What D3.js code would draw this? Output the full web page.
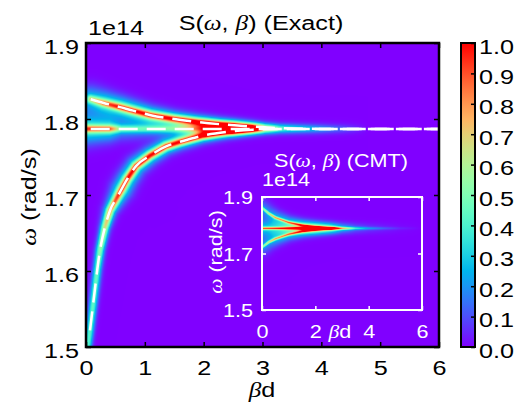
<!DOCTYPE html>
<html>
<head>
<meta charset="utf-8">
<script src="https://cdn.jsdelivr.net/npm/d3@7"></script>
<style>
  body { margin: 0; background: #fff; }
  svg { font-family: "Liberation Sans", Arial, sans-serif; }
</style>
</head>
<body>
<svg id="chart" width="525" height="406"></svg>
<script>
// ---- data (omega in units of 1e14 rad/s, beta in units of 1/d) ----
var betaTicks = [0, 1, 2, 3, 4, 5, 6];
var omegaTicks = [1.5, 1.6, 1.7, 1.8, 1.9];
var colorTicks = [0.0, 0.1, 0.2, 0.3, 0.4, 0.5, 0.6, 0.7, 0.8, 0.9, 1.0];
var insetBetaTicks = [0, 2, 4, 6];
var insetOmegaTicks = [1.5, 1.7, 1.9];

// exact map: branch centres
var upperBeta  = [0.08, 0.3, 0.56, 0.8, 1.1, 1.5, 1.9, 2.3, 2.84, 3.3, 4, 6];
var upperOmega = [1.826, 1.821, 1.816, 1.811, 1.805, 1.800, 1.796, 1.793, 1.790, 1.788, 1.787, 1.787];
var lowerBeta  = [0.03, 0.068, 0.15, 0.19, 0.24, 0.32, 0.41, 0.53, 0.70, 0.85, 1.09, 1.36, 1.6, 1.98, 2.4, 2.84, 3.3, 4, 6];
var lowerOmega = [1.50, 1.522, 1.575, 1.601, 1.628, 1.657, 1.68, 1.697, 1.721, 1.738, 1.752, 1.764, 1.77, 1.778, 1.783, 1.786, 1.787, 1.787, 1.787];
var flatBeta   = [0.02, 6];
var flatOmega  = [1.787, 1.787];

// peak height of each branch along beta d
var upperAmpBeta = [0, 0.3, 0.6, 2.0, 2.5, 2.8, 3.05, 3.3, 3.6, 4.2, 4.8];
var upperAmp     = [0.6, 0.9, 1, 1, 0.8, 0.55, 0.27, 0.15, 0.11, 0.05, 0];
var lowerAmpBeta = [0, 0.2, 0.4, 0.6, 2.0, 2.5, 2.8, 3.05, 3.3, 3.6, 4.2, 4.8];
var lowerAmp     = [0.4, 0.45, 0.8, 1, 1, 0.8, 0.55, 0.27, 0.15, 0.11, 0.05, 0];
var flatAmpBeta  = [0, 0.4, 0.6, 1.0, 1.5, 1.9, 2.5, 2.8, 3.05, 3.3, 3.6, 4.2, 4.8];
var flatAmp      = [0.95, 0.9, 0.5, 0.45, 0.45, 0.6, 0.8, 0.6, 0.27, 0.15, 0.11, 0.05, 0];

// width (px) of the soft glow round each branch along beta d
var upperWidthBeta = [0, 0.5, 1.5, 3, 6];
var upperWidth     = [9, 7.5, 5.5, 4, 4];
var lowerWidthBeta = [0, 0.3, 0.6, 1.5, 3, 6];
var lowerWidth     = [3, 4, 7, 5.5, 4, 4];
var flatWidthBeta  = [0, 0.5, 1.5, 3, 6];
var flatWidth      = [10, 8, 5.5, 4, 4];

// dashed analytic curves start here
var dashStart = 0.08;

// CMT inset
var insetBeta  = [0, 0.25, 0.5, 1.0, 1.5, 2.0, 2.5, 3, 4, 6];
var insetUpper = [1.862, 1.842, 1.827, 1.810, 1.800, 1.795, 1.792, 1.790, 1.789, 1.789];
var insetLower = [1.722, 1.740, 1.752, 1.768, 1.778, 1.783, 1.786, 1.788, 1.789, 1.789];
var insetFlat  = [1.789, 1.789, 1.789, 1.789, 1.789, 1.789, 1.789, 1.789, 1.789, 1.789];
var insetAmpBeta  = [0, 0.5, 1.5, 2.0, 2.6, 3.0, 3.5, 4, 4.6, 5.2, 6];
var insetSideAmp  = [0.5, 0.75, 0.75, 0.6, 0.4, 0.2, 0.08, 0.04, 0.02, 0.01, 0];
var insetFlatAmp  = [0.9, 0.9, 0.9, 0.9, 0.7, 0.4, 0.22, 0.13, 0.07, 0.02, 0];
var insetWidthBeta = [0, 1, 3, 6];
var insetWidth     = [5.5, 4.5, 3.5, 3.5];

var svg = d3.select("#chart");
var x = d3.scaleLinear().domain([0, 6]).range([86, 439]);
var y = d3.scaleLinear().domain([1.5, 1.9]).range([347, 43]);
var xi = d3.scaleLinear().domain([0, 6]).range([262, 422]);
var yi = d3.scaleLinear().domain([1.5, 1.9]).range([310, 197]);
var cbar = d3.scaleLinear().domain([0, 1]).range([347, 43]);

var STRETCH = "scale(1.2,1)";

// matplotlib "rainbow"
function rainbow(t) {
    t = Math.max(0, Math.min(1, t));
    var r = Math.min(1, Math.abs(2 * t - 0.5)),
        g = Math.sin(Math.PI * t),
        b = Math.cos(Math.PI * t / 2);
    return [Math.round(r * 255), Math.round(g * 255), Math.round(b * 255)];
}
function rainbowStr(t) { var c = rainbow(t); return "rgb(" + c.join(",") + ")"; }

function branch(bs, om, ab, a, wb, w) {
    return {
        beta: bs, omega: om,
        amp: d3.scaleLinear().domain(ab).range(a).clamp(true),
        width: d3.scaleLinear().domain(wb).range(w).clamp(true)
    };
}

// distance of every pixel to each branch line, turned into a glow
function heatImage(xs, ys, branches, core, coreWeight) {
    var x0 = xs.range()[0], y0 = ys.range()[1];
    var w = Math.round(xs.range()[1] - x0), h = Math.round(ys.range()[0] - y0);
    var canvas = document.createElement("canvas");
    canvas.width = w; canvas.height = h;
    var ctx = canvas.getContext("2d"), img = ctx.createImageData(w, h);
    var polys = branches.map(function (br) {
        return br.beta.map(function (b, k) { return [xs(b) - x0, ys(br.omega[k]) - y0, b]; });
    });
    for (var j = 0; j < h; j++) {
        for (var i = 0; i < w; i++) {
            var px = i + 0.5, py = j + 0.5, v = 0;
            for (var n = 0; n < polys.length; n++) {
                var p = polys[n], best = Infinity, bb = 0;
                for (var s = 0; s < p.length - 1; s++) {
                    var ax = p[s][0], ay = p[s][1], dx = p[s + 1][0] - ax, dy = p[s + 1][1] - ay;
                    var t = ((px - ax) * dx + (py - ay) * dy) / (dx * dx + dy * dy);
                    t = Math.max(0, Math.min(1, t));
                    var ex = ax + t * dx - px, ey = ay + t * dy - py, dd = ex * ex + ey * ey;
                    if (dd < best) { best = dd; bb = p[s][2] + t * (p[s + 1][2] - p[s][2]); }
                }
                var br = branches[n], sw = br.width(bb);
                v += br.amp(bb) * (coreWeight * Math.exp(-best / (2 * core * core)) +
                                   (1 - coreWeight) * Math.exp(-best / (2 * sw * sw)));
            }
            var rgb = rainbow(v), idx = (j * w + i) * 4;
            img.data[idx] = rgb[0]; img.data[idx + 1] = rgb[1]; img.data[idx + 2] = rgb[2]; img.data[idx + 3] = 255;
        }
    }
    ctx.putImageData(img, 0, 0);
    return {href: canvas.toDataURL(), x: x0, y: y0, w: w, h: h};
}

// text with italic greek letters
function richText(parent, str, size, fill) {
    var t = parent.append("text").attr("font-size", size).attr("fill", fill);
    str.split(/([\u03b1-\u03c9])/).forEach(function (part) {
        if (!part) return;
        var ts = t.append("tspan").text(part);
        if (/[\u03b1-\u03c9]/.test(part)) ts.attr("font-style", "italic").attr("font-family", "Liberation Serif, serif");
    });
    return t;
}

// ---- main heat map ----
var mainBranches = [
    branch(upperBeta, upperOmega, upperAmpBeta, upperAmp, upperWidthBeta, upperWidth),
    branch(lowerBeta, lowerOmega, lowerAmpBeta, lowerAmp, lowerWidthBeta, lowerWidth),
    branch(flatBeta, flatOmega, flatAmpBeta, flatAmp, flatWidthBeta, flatWidth)
];
var heat = heatImage(x, y, mainBranches, 2.6, 0.6);

svg.append("defs").append("clipPath").attr("id", "plotclip")
    .append("rect").attr("x", 86).attr("y", 43).attr("width", 353).attr("height", 304);

svg.append("image")
    .attr("x", heat.x).attr("y", heat.y)
    .attr("width", heat.w).attr("height", heat.h)
    .attr("preserveAspectRatio", "none")
    .attr("href", heat.href);

// dashed analytic dispersion
var line = d3.line()
    .x(function (d) { return x(d[0]); })
    .y(function (d) { return y(d[1]); })
    .curve(d3.curveMonotoneX);
function pairs(bs, om) {
    return bs.map(function (b, i) { return [b, om[i]]; });
}
var dashCurves = [
    pairs(upperBeta, upperOmega),
    pairs(lowerBeta.slice(1), lowerOmega.slice(1)),
    [[dashStart, flatOmega[0]], [6, flatOmega[1]]]
];
svg.append("g").attr("clip-path", "url(#plotclip)")
    .selectAll("path").data(dashCurves).enter().append("path")
    .attr("d", line)
    .attr("fill", "none")
    .attr("stroke", "#fff")
    .attr("stroke-width", 2.5)
    .attr("stroke-dasharray", "19,9");

// ---- inset (CMT) ----
var insetBranches = [
    branch(insetBeta, insetUpper, insetAmpBeta, insetSideAmp, insetWidthBeta, insetWidth),
    branch(insetBeta, insetLower, insetAmpBeta, insetSideAmp, insetWidthBeta, insetWidth),
    branch(insetBeta, insetFlat, insetAmpBeta, insetFlatAmp, insetWidthBeta, insetWidth)
];
var iheat = heatImage(xi, yi, insetBranches, 1.0, 0.68);
svg.append("image")
    .attr("x", iheat.x).attr("y", iheat.y)
    .attr("width", iheat.w).attr("height", iheat.h)
    .attr("preserveAspectRatio", "none")
    .attr("href", iheat.href);

function styleTicks(g, color, width) {
    g.select(".domain").remove();
    g.selectAll(".tick line").attr("stroke", color).attr("stroke-width", width);
}

// inset axes
var ig = svg.append("g");
ig.append("g").attr("transform", "translate(0,310)")
    .call(d3.axisBottom(xi).tickValues(insetBetaTicks).tickSize(-4).tickFormat(d3.format("d")))
    .call(styleTicks, "#fff", 1.5)
    .call(function (g) {
        g.selectAll("text").attr("y", null).attr("dy", null).attr("fill", "#fff").attr("font-size", 18)
            .attr("font-family", null).attr("transform", "translate(0,28) " + STRETCH);
    });
ig.append("g").attr("transform", "translate(0,197)")
    .call(d3.axisTop(xi).tickValues(insetBetaTicks).tickSize(-4).tickFormat(""))
    .call(styleTicks, "#fff", 1.5);
ig.append("g").attr("transform", "translate(262,0)")
    .call(d3.axisLeft(yi).tickValues(insetOmegaTicks).tickSize(-4).tickFormat(d3.format(".1f")))
    .call(styleTicks, "#fff", 1.5)
    .call(function (g) {
        g.selectAll("text").attr("x", null).attr("dy", null).attr("fill", "#fff").attr("font-size", 18)
            .attr("font-family", null).attr("transform", "translate(-9,6.5) " + STRETCH);
    });
ig.append("g").attr("transform", "translate(422,0)")
    .call(d3.axisRight(yi).tickValues(insetOmegaTicks).tickSize(-4).tickFormat(""))
    .call(styleTicks, "#fff", 1.5);
ig.append("rect").attr("x", 262).attr("y", 197).attr("width", 160).attr("height", 113)
    .attr("fill", "none").attr("stroke", "#fff").attr("stroke-width", 2);

richText(ig, "S(\u03c9, \u03b2) (CMT)", 18, "#fff")
    .attr("text-anchor", "middle").attr("transform", "translate(341,167) " + STRETCH);
ig.append("text").attr("font-size", 18).attr("fill", "#fff").text("1e14")
    .attr("transform", "translate(262,186) " + STRETCH);
richText(ig, "\u03c9 (rad/s)", 18, "#fff")
    .attr("text-anchor", "middle").attr("transform", "translate(222,252) rotate(-90) " + STRETCH);
richText(ig, "\u03b2d", 18, "#fff")
    .attr("text-anchor", "middle").attr("transform", "translate(340,338) " + STRETCH);

// ---- main axes ----
var ag = svg.append("g");
ag.append("g").attr("transform", "translate(0,347)")
    .call(d3.axisBottom(x).tickValues(betaTicks).tickSize(-5).tickFormat(d3.format("d")))
    .call(styleTicks, "#000", 1.5)
    .call(function (g) {
        g.selectAll("text").attr("y", null).attr("dy", null).attr("fill", "#000").attr("font-size", 21)
            .attr("font-family", null).attr("transform", "translate(0,28) " + STRETCH);
    });
ag.append("g").attr("transform", "translate(0,43)")
    .call(d3.axisTop(x).tickValues(betaTicks).tickSize(-5).tickFormat(""))
    .call(styleTicks, "#000", 1.5);
ag.append("g").attr("transform", "translate(86,0)")
    .call(d3.axisLeft(y).tickValues(omegaTicks).tickSize(-5).tickFormat(d3.format(".1f")))
    .call(styleTicks, "#000", 1.5)
    .call(function (g) {
        g.selectAll("text").attr("x", null).attr("dy", null).attr("fill", "#000").attr("font-size", 21)
            .attr("font-family", null).attr("transform", "translate(-7,10) " + STRETCH);
    });
ag.append("g").attr("transform", "translate(439,0)")
    .call(d3.axisRight(y).tickValues(omegaTicks).tickSize(-5).tickFormat(""))
    .call(styleTicks, "#000", 1.5);
ag.append("rect").attr("x", 86).attr("y", 43).attr("width", 353).attr("height", 304)
    .attr("fill", "none").attr("stroke", "#000").attr("stroke-width", 2.5);

richText(ag, "S(\u03c9, \u03b2) (Exact)", 21, "#000")
    .attr("text-anchor", "middle").attr("transform", "translate(261,30) " + STRETCH);
ag.append("text").attr("font-size", 21).text("1e14")
    .attr("transform", "translate(88,35) " + STRETCH);
richText(ag, "\u03c9 (rad/s)", 21, "#000")
    .attr("text-anchor", "middle").attr("transform", "translate(36,197) rotate(-90) " + STRETCH);
richText(ag, "\u03b2d", 21, "#000")
    .attr("text-anchor", "middle").attr("transform", "translate(262,397) " + STRETCH);

// ---- colour bar ----
var grad = svg.select("defs").append("linearGradient").attr("id", "cbgrad")
    .attr("x1", 0).attr("y1", 1).attr("x2", 0).attr("y2", 0);
grad.selectAll("stop").data(d3.range(0, 1.0001, 0.05)).enter().append("stop")
    .attr("offset", function (d) { return d; })
    .attr("stop-color", rainbowStr);
var cg = svg.append("g");
cg.append("rect").attr("x", 461).attr("y", 43).attr("width", 14).attr("height", 304)
    .attr("fill", "url(#cbgrad)");
cg.append("g").attr("transform", "translate(475,0)")
    .call(d3.axisLeft(cbar).tickValues(colorTicks).tickSize(4).tickFormat(d3.format(".1f")))
    .call(styleTicks, "#000", 1.5)
    .call(function (g) {
        g.selectAll("text").attr("x", null).attr("dy", null).attr("fill", "#000").attr("font-size", 21)
            .attr("text-anchor", "start").attr("font-family", null)
            .attr("transform", "translate(4,10) " + STRETCH);
    });
cg.append("rect").attr("x", 461).attr("y", 43).attr("width", 14).attr("height", 304)
    .attr("fill", "none").attr("stroke", "#000").attr("stroke-width", 2);
</script>
</body>
</html>
